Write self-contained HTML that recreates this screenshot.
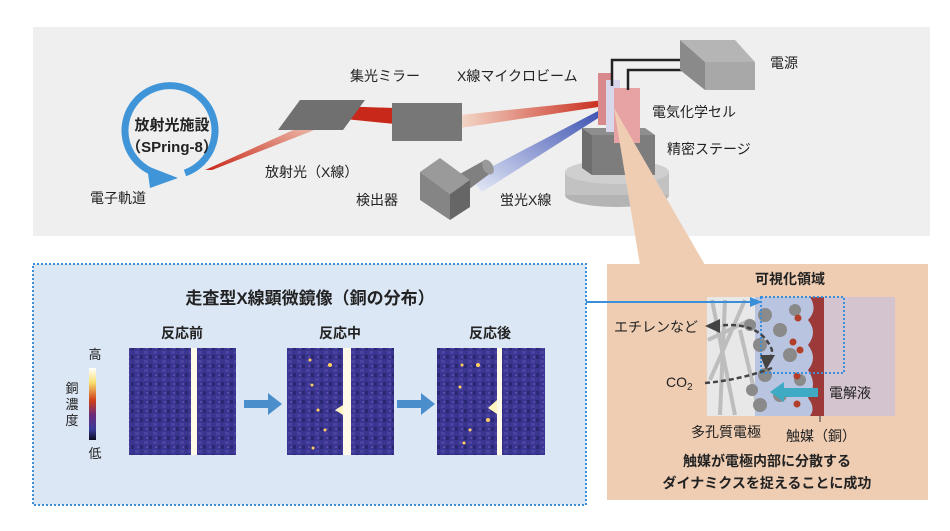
<!DOCTYPE html>
<html><head><meta charset="utf-8"><style>
html,body{margin:0;padding:0;background:#fff}
svg{display:block}
text{font-family:"Liberation Sans","Noto Sans CJK JP",sans-serif;fill:#222}
.b{font-weight:bold}
</style></head><body>
<svg width="950" height="531" viewBox="0 0 950 531" xmlns="http://www.w3.org/2000/svg">
<defs>
<linearGradient id="r1" x1="0" y1="1" x2="1" y2="0"><stop offset="0" stop-color="#c8281a"/><stop offset="1" stop-color="#f3d8c8"/></linearGradient>
<linearGradient id="r2" x1="0" y1="0" x2="1" y2="0"><stop offset="0" stop-color="#f3d8c8"/><stop offset="1" stop-color="#c8281a"/></linearGradient>
<linearGradient id="bl" x1="0" y1="1" x2="1" y2="0"><stop offset="0" stop-color="#e8ecf8"/><stop offset="1" stop-color="#3a4fb0"/></linearGradient>
<linearGradient id="cb" x1="0" y1="0" x2="0" y2="1"><stop offset="0" stop-color="#fff"/><stop offset=".2" stop-color="#f8e070"/><stop offset=".45" stop-color="#d0401a"/><stop offset=".65" stop-color="#6a2a78"/><stop offset=".85" stop-color="#3a3a9a"/><stop offset="1" stop-color="#0a0a20"/></linearGradient>
<pattern id="nz" width="9" height="9" patternUnits="userSpaceOnUse"><rect width="9" height="9" fill="#3a3590"/><rect x="0" y="0" width="4" height="3" fill="#4a44a0"/><rect x="5" y="4" width="3" height="4" fill="#2a2870"/><rect x="2" y="5" width="2" height="2" fill="#5a4aa8"/></pattern>
</defs>
<rect x="33" y="27" width="897" height="209" fill="#efefef"/>
<!-- circle -->
<path d="M155,173 A45,45 0 1,1 185,173" fill="none" stroke="#3f95d8" stroke-width="7"/>
<polygon points="147,166 178,178 150,188" fill="#3f95d8"/>
<text x="172" y="130" text-anchor="middle" font-size="15" class="b">放射光施設</text>
<text x="172" y="152" text-anchor="middle" font-size="15" class="b">（SPring-8）</text>
<text x="90" y="203" font-size="14">電子軌道</text>
<!-- beams -->
<polygon points="205,170 212,170 335,122 322,117" fill="url(#r1)"/>
<polygon points="335,106 395,108 395,124 335,118" fill="#c8281a"/>
<polygon points="460,115 605,100 605,106 460,128" fill="url(#r2)"/>
<polygon points="482,192 470,178 600,110 603,115" fill="url(#bl)"/>
<polygon points="278,130 300,100 365,100 343,130" fill="#707070"/>
<rect x="392" y="103" width="70" height="38" fill="#777"/>
<text x="350" y="81" font-size="14">集光ミラー</text>
<text x="457" y="81" font-size="14">X線マイクロビーム</text>
<text x="265" y="177" font-size="14">放射光（X線）</text>
<!-- detector -->
<polygon points="458,175 485,160 492,172 468,190" fill="#808080"/>
<ellipse cx="488" cy="167" rx="5" ry="8" fill="#999" transform="rotate(-30 488 167)"/>
<polygon points="420,172 440,158 470,180 450,194" fill="#9a9a9a"/>
<polygon points="420,172 450,194 450,220 420,200" fill="#858585"/>
<polygon points="450,194 470,180 470,207 450,220" fill="#666"/>
<text x="356" y="205" font-size="14">検出器</text>
<text x="500" y="205" font-size="14">蛍光X線</text>
<!-- stage -->
<ellipse cx="617" cy="195" rx="52" ry="12" fill="#b4b4b4"/>
<rect x="565" y="172" width="104" height="23" fill="#c2c2c2"/>
<ellipse cx="617" cy="172" rx="52" ry="12" fill="#cfcfcf"/>
<polygon points="582,128 592,135 592,175 582,168" fill="#6e6e6e"/>
<rect x="592" y="135" width="63" height="40" fill="#7d7d7d"/>
<polygon points="582,128 645,128 655,135 592,135" fill="#8e8e8e"/>
<!-- cell -->
<rect x="598" y="73" width="15" height="52" fill="#d9898b"/>
<rect x="606" y="80" width="14" height="52" fill="#d8d6ea"/>
<rect x="614" y="88" width="26" height="55" fill="#e7a2a3"/>
<!-- pink wedge -->
<polygon points="614,108 640,265 705,265" fill="#efcdb3"/>
<polyline points="612,86 612,60 688,60" fill="none" stroke="#222" stroke-width="2.5"/>
<polyline points="628,90 628,70 696,70" fill="none" stroke="#222" stroke-width="2.5"/>
<polygon points="680,40 735,40 755,62 705,62" fill="#b5b5b5"/>
<polygon points="680,40 705,62 705,90 680,70" fill="#8a8a8a"/>
<rect x="705" y="62" width="50" height="28" fill="#a8a8a8"/>
<text x="770" y="68" font-size="14">電源</text>
<text x="652" y="117" font-size="14">電気化学セル</text>
<text x="667" y="154" font-size="14">精密ステージ</text>
<!-- bottom left -->
<rect x="33" y="264" width="553" height="241" fill="#dce7f5" stroke="#3b8fd8" stroke-width="2" stroke-dasharray="2,2"/>
<text x="310" y="304" text-anchor="middle" font-size="17" class="b">走査型X線顕微鏡像（銅の分布）</text>
<text x="182" y="338" text-anchor="middle" font-size="14" class="b">反応前</text>
<text x="340" y="338" text-anchor="middle" font-size="14" class="b">反応中</text>
<text x="490" y="338" text-anchor="middle" font-size="14" class="b">反応後</text>
<text x="95" y="359" text-anchor="middle" font-size="13">高</text>
<rect x="89" y="368" width="7" height="72" fill="url(#cb)"/>
<text x="95" y="458" text-anchor="middle" font-size="13">低</text>
<text x="72" y="393" text-anchor="middle" font-size="13">銅</text>
<text x="72" y="409" text-anchor="middle" font-size="13">濃</text>
<text x="72" y="425" text-anchor="middle" font-size="13">度</text>
<rect x="129" y="348" width="107" height="107" fill="url(#nz)"/>
<rect x="191" y="348" width="6" height="107" fill="#fffbe8"/>
<rect x="287" y="348" width="107" height="107" fill="url(#nz)"/>
<rect x="343" y="348" width="8" height="107" fill="#fffbe8"/>
<polygon points="343,405 335,410 343,415" fill="#fff3c0"/>
<g fill="#ffd060"><circle cx="310" cy="360" r="1.5"/><circle cx="330" cy="365" r="2"/><circle cx="312" cy="385" r="1.5"/><circle cx="318" cy="410" r="1.5"/><circle cx="325" cy="430" r="1.5"/><circle cx="313" cy="448" r="1.5"/></g>
<rect x="437" y="348" width="108" height="107" fill="url(#nz)"/>
<rect x="497" y="348" width="5" height="107" fill="#fffbe8"/>
<polygon points="497,400 488,408 497,414" fill="#fff3c0"/>
<g fill="#ffd060"><circle cx="462" cy="365" r="1.5"/><circle cx="478" cy="365" r="2"/><circle cx="460" cy="387" r="1.5"/><circle cx="488" cy="420" r="2"/><circle cx="470" cy="430" r="1.5"/><circle cx="464" cy="443" r="1.5"/></g>
<polygon points="244,400 268,400 268,393 282,404 268,415 268,408 244,408" fill="#4a8fcc"/>
<polygon points="397,400 421,400 421,393 435,404 421,415 421,408 397,408" fill="#4a8fcc"/>
<!-- bottom right -->
<rect x="607" y="264" width="321" height="236" fill="#efcdb3"/>
<text x="790" y="284" text-anchor="middle" font-size="14" class="b">可視化領域</text>
<rect x="707" y="297" width="60" height="119" fill="#e8e8e8"/>
<g stroke="#bdbdbd" stroke-width="4"><line x1="712" y1="300" x2="735" y2="415"/><line x1="725" y1="300" x2="720" y2="415"/><line x1="745" y1="300" x2="710" y2="380"/><line x1="740" y1="330" x2="760" y2="415"/><line x1="708" y1="340" x2="750" y2="320"/></g>
<rect x="755" y="297" width="70" height="119" fill="#b9c4e0"/>
<g fill="#8a8a8a"><circle cx="765" cy="315" r="7"/><circle cx="780" cy="330" r="7"/><circle cx="760" cy="345" r="7"/><circle cx="790" cy="355" r="7"/><circle cx="765" cy="375" r="7"/><circle cx="780" cy="395" r="7"/><circle cx="760" cy="405" r="7"/><circle cx="795" cy="310" r="6"/><circle cx="800" cy="380" r="6"/><circle cx="750" cy="325" r="6"/><circle cx="752" cy="390" r="6"/></g>
<rect x="824" y="297" width="71" height="119" fill="#d3c4cf"/>
<path d="M824,297 L810,297 Q818,310 808,320 Q818,332 808,345 Q818,358 808,370 Q818,385 808,398 Q816,408 810,416 L824,416 Z" fill="#9c3a3a"/>
<g fill="#b0402a"><circle cx="798" cy="318" r="3.5"/><circle cx="793" cy="342" r="3.5"/><circle cx="800" cy="350" r="3.5"/><circle cx="797" cy="376" r="3.5"/><circle cx="797" cy="404" r="3.5"/></g>
<rect x="761" y="297" width="83" height="76" fill="none" stroke="#3b8fd8" stroke-width="2" stroke-dasharray="2,2"/>
<line x1="586" y1="302" x2="752" y2="302" stroke="#3b8fd8" stroke-width="2"/>
<polygon points="762,302 750,297 750,307" fill="#3b8fd8"/>
<path d="M715,326 Q760,320 772,350 L770,362" fill="none" stroke="#444" stroke-width="2.5" stroke-dasharray="5,3"/>
<polygon points="705,326 720,319 720,333" fill="#444"/>
<polygon points="760,355 775,355 766,370" fill="#444"/>
<path d="M705,383 Q740,380 772,368" fill="none" stroke="#444" stroke-width="2.5" stroke-dasharray="5,3"/>
<polygon points="770,392 784,382 784,388 818,388 818,397 784,397 784,402" fill="#3eaac4"/>
<line x1="820" y1="416" x2="820" y2="422" stroke="#333" stroke-width="1"/>
<text x="614" y="332" font-size="14">エチレンなど</text>
<text x="666" y="387" font-size="14">CO<tspan font-size="10" dy="3">2</tspan></text>
<text x="829" y="398" font-size="14">電解液</text>
<text x="691" y="437" font-size="14">多孔質電極</text>
<text x="786" y="441" font-size="14">触媒（銅）</text>
<text x="767" y="466" text-anchor="middle" font-size="14" class="b">触媒が電極内部に分散する</text>
<text x="767" y="488" text-anchor="middle" font-size="14" class="b">ダイナミクスを捉えることに成功</text>
</svg>
</body></html>
